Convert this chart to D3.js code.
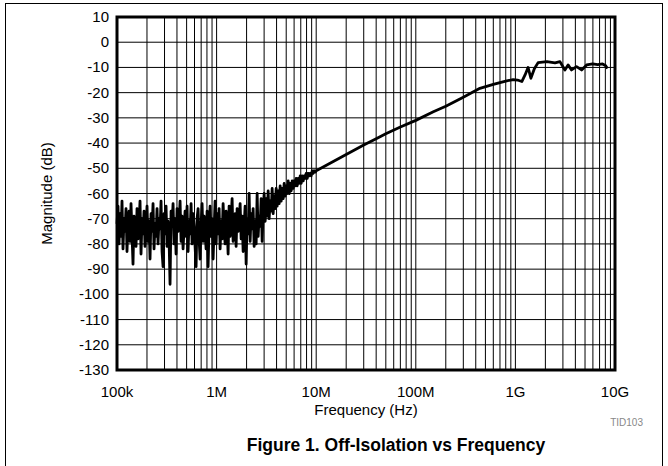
<!DOCTYPE html>
<html>
<head>
<meta charset="utf-8">
<script src="https://cdn.jsdelivr.net/npm/d3@7"></script>
<style>
  body { margin: 0; background: #fff; }
  text { font-family: "Liberation Sans", Arial, sans-serif; }
</style>
</head>
<body>
<svg id="chart" width="668" height="466"></svg>
<script>
// axis ticks
var yTicks = [10, 0, -10, -20, -30, -40, -50, -60, -70, -80, -90, -100, -110, -120, -130];
var xTicks = [1e5, 1e6, 1e7, 1e8, 1e9, 1e10];
var xTickLabels = ["100k", "1M", "10M", "100M", "1G", "10G"];

// noisy part of the sweep, 100k .. 10M, one reading per log step
var noiseStart = 1e5;
var noiseStop = 1e7;
var noiseDb = [
  -72, -65, -80, -68, -77, -63, -82, -70, -75, -66,
  -83, -71, -67, -79, -64, -76, -88, -69, -74, -81,
  -66, -78, -72, -63, -84, -70, -76, -67, -81, -73,
  -65, -79, -71, -86, -68, -75, -64, -82, -72, -77,
  -66, -80, -70, -74, -63, -83, -89, -68, -76, -65,
  -81, -71, -78, -96, -67, -73, -64, -80, -70, -84,
  -66, -75, -72, -63, -79, -69, -82, -74, -67, -77,
  -65, -83, -71, -76, -64, -80, -68, -73, -81, -89,
  -70, -66, -78, -86, -72, -64, -79, -69, -75, -82,
  -67, -89, -73, -65, -77, -70, -86, -74, -63, -80,
  -68, -76, -66, -82, -71, -78, -64, -74, -80, -67,
  -73, -84, -65, -77, -70, -62, -79, -72, -68, -81,
  -66, -75, -71, -64, -78, -69, -83, -73, -65, -88,
  -70, -76, -60, -79, -68, -74, -66, -81, -71, -80,
  -60, -77, -69, -73, -62, -79, -67,
  -60, -71, -62, -69, -59, -70, -63, -67, -58, -68,
  -61, -66, -58, -65, -59, -64, -57, -63, -58, -62,
  -56, -61, -57, -60, -55, -60, -56, -59, -55, -58,
  -55, -57, -54, -57, -54, -56, -53, -56, -53, -55,
  -53, -54, -52, -54, -52, -53, -52, -53, -51, -52,
  -51, -51.5, -51
];

// smooth part of the sweep, [Hz, dB]
var smoothFreq = [1.0e7, 1.2e7, 1.5e7, 2.0e7, 3.0e7, 4.0e7, 5.0e7, 7.0e7, 1.0e8,
  1.5e8, 2.0e8, 3.0e8, 4.4e8, 6.0e8, 8.0e8, 9.5e8, 1.05e9, 1.16e9, 1.25e9,
  1.34e9, 1.43e9, 1.55e9, 1.69e9, 2.07e9, 2.5e9, 2.8e9, 3.14e9, 3.38e9,
  3.66e9, 4.11e9, 4.62e9, 5.19e9, 5.96e9, 6.7e9, 7.5e9, 8.0e9, 8.4e9];
var smoothDb = [-51, -49.3, -47.2, -44.5, -40.8, -38.3, -36.3, -33.6, -31,
  -27.6, -25.4, -21.8, -18.3, -16.7, -15.4, -14.8, -15.0, -15.6, -13.0,
  -10.0, -14.3, -10.5, -8.1, -7.7, -8.2, -7.7, -11, -9,
  -11, -9.7, -11, -9, -8.6, -8.9, -8.6, -9.2, -10.4];

var svg = d3.select("#chart");
var plotLeft = 117, plotTop = 17, plotW = 498, plotH = 353;

// outer figure frame
svg.append("rect")
  .attr("x", 5.5).attr("y", 3.5)
  .attr("width", 657).attr("height", 480)
  .style("fill", "none").style("stroke", "#000").style("stroke-width", 1);

var x = d3.scaleLog().domain([1e5, 1e10]).range([plotLeft, plotLeft + plotW]);
var y = d3.scaleLinear().domain([-130, 10]).range([plotTop + plotH, plotTop]);

// build the points
var points = [];
var logStep = (Math.log10(noiseStop) - Math.log10(noiseStart)) / (noiseDb.length - 1);
noiseDb.forEach(function (d, i) {
  points.push([Math.pow(10, Math.log10(noiseStart) + i * logStep), d]);
});
smoothFreq.forEach(function (f, i) {
  if (i > 0) points.push([f, smoothDb[i]]);
});

// grid
var grid = svg.append("g");
var minor = [];
for (var dec = 5; dec < 10; dec++) {
  for (var m = 2; m <= 9; m++) minor.push(m * Math.pow(10, dec));
}
grid.selectAll(".vgrid")
  .data(minor.concat(xTicks))
  .enter()
  .append("line")
  .attr("x1", function (d) { return x(d); })
  .attr("x2", function (d) { return x(d); })
  .attr("y1", plotTop).attr("y2", plotTop + plotH)
  .style("stroke", "#000").style("stroke-width", 1);
grid.selectAll(".hgrid")
  .data(yTicks)
  .enter()
  .append("line")
  .attr("x1", plotLeft).attr("x2", plotLeft + plotW)
  .attr("y1", function (d) { return y(d); })
  .attr("y2", function (d) { return y(d); })
  .style("stroke", "#000").style("stroke-width", 1);

// curve
var line = d3.line()
  .x(function (d) { return x(d[0]); })
  .y(function (d) { return y(d[1]); });
svg.append("path")
  .datum(points)
  .attr("d", line)
  .style("fill", "none")
  .style("stroke", "#000")
  .style("stroke-width", 2.8)
  .style("stroke-linejoin", "round");

// plot border
svg.append("rect")
  .attr("x", plotLeft).attr("y", plotTop)
  .attr("width", plotW).attr("height", plotH)
  .style("fill", "none").style("stroke", "#000").style("stroke-width", 3);

// y tick labels
svg.selectAll(".ylab")
  .data(yTicks)
  .enter()
  .append("text")
  .attr("x", 109)
  .attr("y", function (d) { return y(d) + 5; })
  .attr("text-anchor", "end")
  .style("font-size", "15px")
  .text(function (d) { return d; });

// x tick labels
svg.selectAll(".xlab")
  .data(xTicks)
  .enter()
  .append("text")
  .attr("x", function (d) { return x(d); })
  .attr("y", 397)
  .attr("text-anchor", "middle")
  .style("font-size", "15px")
  .text(function (d, i) { return xTickLabels[i]; });

svg.append("text")
  .attr("x", plotLeft + plotW / 2).attr("y", 415)
  .attr("text-anchor", "middle")
  .style("font-size", "15px")
  .text("Frequency (Hz)");

svg.append("text")
  .attr("transform", "translate(52," + (plotTop + plotH / 2) + ") rotate(-90)")
  .attr("text-anchor", "middle")
  .style("font-size", "15px")
  .text("Magnitude (dB)");

svg.append("text")
  .attr("x", 643).attr("y", 426)
  .attr("text-anchor", "end")
  .style("font-size", "10px")
  .style("fill", "#888")
  .text("TID103");

svg.append("text")
  .attr("x", 396).attr("y", 451)
  .attr("text-anchor", "middle")
  .style("font-size", "17.5px")
  .style("font-weight", "bold")
  .text("Figure 1. Off-Isolation vs Frequency");
</script>
</body>
</html>
